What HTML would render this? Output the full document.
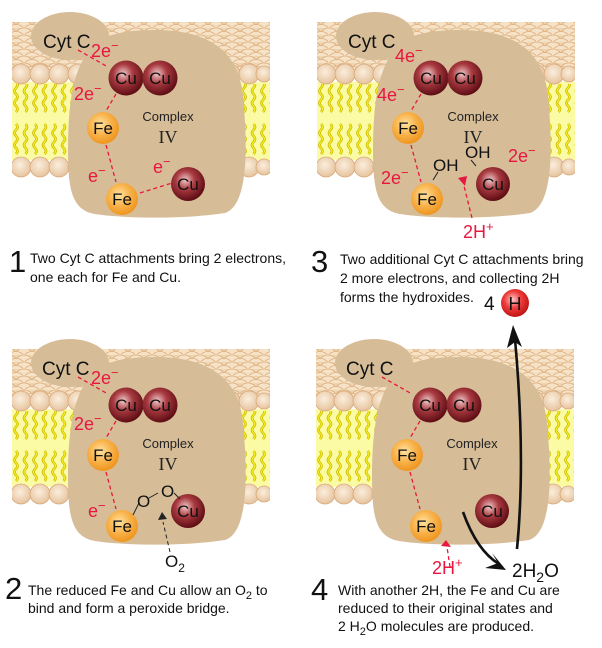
<!DOCTYPE html>
<html><head><meta charset="utf-8"><style>
html,body{margin:0;padding:0;background:#fff;}
svg{display:block;}
text{font-family:"Liberation Sans",sans-serif;}
.r{fill:#e8173f;}
.cap{font-size:14px;fill:#111;}
.big{font-size:31px;fill:#111;}
.el{font-size:17px;fill:#111;}
</style></head><body>
<svg width="602" height="648" viewBox="0 0 602 648" xmlns="http://www.w3.org/2000/svg">
<defs>
<radialGradient id="cu" cx="0.42" cy="0.38" r="0.62">
<stop offset="0" stop-color="#f1c9c9"/><stop offset="0.45" stop-color="#a83a40"/><stop offset="1" stop-color="#5e0d14"/></radialGradient>
<radialGradient id="fe" cx="0.42" cy="0.38" r="0.62">
<stop offset="0" stop-color="#ffe3a0"/><stop offset="0.55" stop-color="#f8b24a"/><stop offset="1" stop-color="#ef9620"/></radialGradient>
<radialGradient id="hb" cx="0.42" cy="0.38" r="0.62">
<stop offset="0" stop-color="#ffc8c8"/><stop offset="0.5" stop-color="#ee3b3b"/><stop offset="1" stop-color="#c01515"/></radialGradient>
<radialGradient id="bead" cx="0.45" cy="0.4" r="0.6">
<stop offset="0" stop-color="#fbeedd"/><stop offset="1" stop-color="#e6c49e"/></radialGradient>
<pattern id="scale" x="0" y="0" width="16" height="7" patternUnits="userSpaceOnUse">
<rect width="16" height="7" fill="#efd4b0"/>
<ellipse cx="8" cy="6" rx="8" ry="6" fill="#f6e2c6" stroke="#dcae7e" stroke-width="0.8"/>
<ellipse cx="0" cy="9.5" rx="8" ry="6" fill="#f6e2c6" stroke="#dcae7e" stroke-width="0.8"/>
<ellipse cx="16" cy="9.5" rx="8" ry="6" fill="#f6e2c6" stroke="#dcae7e" stroke-width="0.8"/>
</pattern>
<pattern id="tail" x="12" y="0" width="9.5" height="40" patternUnits="userSpaceOnUse">
<path d="M4,2 q3,3 0,6 q-3,3 0,6 q3,3 0,6 q-3,3 0,6 q3,3 0,6" fill="none" stroke="#c8b400" stroke-width="2.6"/>
<path d="M4,2 q3,3 0,6 q-3,3 0,6 q3,3 0,6 q-3,3 0,6 q3,3 0,6" fill="none" stroke="#f6ee20" stroke-width="1.3"/>
</pattern>
<g id="mem">
<rect x="12" y="22" width="258" height="50" fill="url(#scale)"/>
<rect x="12" y="82" width="258" height="78" fill="#fbfba6"/>
<rect x="12" y="84" width="258" height="36" fill="url(#tail)"/>
<rect x="12" y="120" width="258" height="36" fill="url(#tail)" transform="translate(0,2)"/>
<g fill="url(#bead)" stroke="#d9a97a" stroke-width="0.8">
<circle cx="21" cy="74" r="10"/><circle cx="40" cy="74" r="10"/><circle cx="59" cy="74" r="10"/><circle cx="78" cy="74" r="10"/><circle cx="97" cy="74" r="10"/><circle cx="116" cy="74" r="10"/><circle cx="135" cy="74" r="10"/><circle cx="154" cy="74" r="10"/><circle cx="173" cy="74" r="10"/><circle cx="192" cy="74" r="10"/><circle cx="211" cy="74" r="10"/><circle cx="230" cy="74" r="10"/><circle cx="249" cy="74" r="10"/><circle cx="264" cy="74" r="8"/>
<circle cx="21" cy="167" r="10"/><circle cx="40" cy="167" r="10"/><circle cx="59" cy="167" r="10"/><circle cx="78" cy="167" r="10"/><circle cx="97" cy="167" r="10"/><circle cx="116" cy="167" r="10"/><circle cx="135" cy="167" r="10"/><circle cx="154" cy="167" r="10"/><circle cx="173" cy="167" r="10"/><circle cx="192" cy="167" r="10"/><circle cx="211" cy="167" r="10"/><circle cx="230" cy="167" r="10"/><circle cx="249" cy="167" r="10"/><circle cx="264" cy="167" r="8"/>
</g>
<rect x="270" y="15" width="20" height="170" fill="#fff"/>
<rect x="0" y="15" width="12" height="170" fill="#fff"/>
<g fill="#d6bd98">
<path d="M82,62 C90,38 115,30 155,30 C205,30 238,48 243,95 C247,140 250,205 225,213 C180,220 120,218 95,214 C72,210 68,190 68,150 C68,110 72,80 82,62 Z"/>
<ellipse cx="70" cy="36" rx="39" ry="24"/>
</g>
</g>
<g id="balls">
<circle cx="126" cy="78" r="17.5" fill="url(#cu)"/>
<circle cx="160" cy="78" r="17.5" fill="url(#cu)"/>
<circle cx="103" cy="128" r="16" fill="url(#fe)"/>
<circle cx="122" cy="199" r="16" fill="url(#fe)"/>
<circle cx="188" cy="184" r="17" fill="url(#cu)"/>
</g>
</defs>

<!-- Panel 1 -->
<g>
<use href="#mem"/><use href="#balls"/>
<g stroke="#e8173f" stroke-width="1.3" stroke-dasharray="4,3" fill="none">
<path d="M78,50 L108,67"/><path d="M116,94 L106,111"/><path d="M106,145 L116,182"/><path d="M140,193 L172,183"/>
</g>
<text x="43" y="48" class="el" style="font-size:19px">Cyt C</text>
<text x="91" y="57" class="r" font-size="18">2e<tspan dy="-7" font-size="13">−</tspan></text>
<text x="74" y="100" class="r" font-size="18">2e<tspan dy="-7" font-size="13">−</tspan></text>
<text x="88" y="182" class="r" font-size="18">e<tspan dy="-7" font-size="13">−</tspan></text>
<text x="153" y="173" class="r" font-size="18">e<tspan dy="-7" font-size="13">−</tspan></text>
<g class="el" text-anchor="middle"><text x="126" y="84">Cu</text><text x="160" y="84">Cu</text><text x="103" y="134">Fe</text><text x="122" y="205">Fe</text><text x="188" y="190">Cu</text></g>
<text x="168" y="121" font-size="13" text-anchor="middle" fill="#222">Complex</text>
<text x="168" y="143" font-size="18" text-anchor="middle" fill="#222" style="font-family:'Liberation Serif',serif">IV</text>
<text x="9" y="272" class="big">1</text>
<text x="30" y="263" class="cap">Two Cyt  C attachments bring 2 electrons,</text>
<text x="30" y="282" class="cap">one each for Fe and Cu.</text>
</g>

<!-- Panel 3 -->
<g transform="translate(305,0)">
<use href="#mem"/><use href="#balls"/>
<g stroke="#e8173f" stroke-width="1.3" stroke-dasharray="4,3" fill="none">
<path d="M116,94 L106,111"/><path d="M106,145 L116,182"/><path d="M167,218 L159,186"/>
</g>
<path d="M153,178 L160,186 L162,176 Z" fill="#e8173f"/>
<g stroke="#222" stroke-width="1"><path d="M133,172 L128,180"/><path d="M166,160 L171,166"/></g>
<text x="43" y="48" class="el" style="font-size:19px">Cyt C</text>
<text x="90" y="62" class="r" font-size="18">4e<tspan dy="-7" font-size="13">−</tspan></text>
<text x="72" y="101" class="r" font-size="18">4e<tspan dy="-7" font-size="13">−</tspan></text>
<text x="76" y="184" class="r" font-size="18">2e<tspan dy="-7" font-size="13">−</tspan></text>
<text x="203" y="162" class="r" font-size="18">2e<tspan dy="-7" font-size="13">−</tspan></text>
<text x="158" y="238" class="r" font-size="18">2H<tspan dy="-7" font-size="13">+</tspan></text>
<text x="128" y="171" class="el">OH</text>
<text x="160" y="158" class="el">OH</text>
<g class="el" text-anchor="middle"><text x="126" y="84">Cu</text><text x="160" y="84">Cu</text><text x="103" y="134">Fe</text><text x="122" y="205">Fe</text><text x="188" y="190">Cu</text></g>
<text x="168" y="121" font-size="13" text-anchor="middle" fill="#222">Complex</text>
<text x="168" y="143" font-size="18" text-anchor="middle" fill="#222" style="font-family:'Liberation Serif',serif">IV</text>
<text x="6" y="272" class="big">3</text>
<text x="35" y="264" class="cap">Two additional Cyt  C attachments bring</text>
<text x="35" y="283" class="cap">2 more electrons, and collecting 2H</text>
<text x="35" y="302" class="cap">forms the hydroxides.</text>
</g>

<!-- Panel 2 -->
<g transform="translate(0,327)">
<use href="#mem"/><use href="#balls"/>
<g stroke="#e8173f" stroke-width="1.3" stroke-dasharray="4,3" fill="none">
<path d="M78,50 L108,67"/><path d="M116,94 L106,111"/><path d="M106,145 L116,182"/>
</g>
<g stroke="#222" stroke-width="1" fill="none"><path d="M133,188 L139,176"/><path d="M149,171 L158,166"/><path d="M174,166 L180,172"/>
<path d="M170,225 L163,195" stroke-dasharray="4,3"/></g>
<path d="M158,193 L162,185 L167,192 Z" fill="#222"/>
<text x="42" y="48" class="el" style="font-size:19px">Cyt C</text>
<text x="91" y="57" class="r" font-size="18">2e<tspan dy="-7" font-size="13">−</tspan></text>
<text x="74" y="103" class="r" font-size="18">2e<tspan dy="-7" font-size="13">−</tspan></text>
<text x="88" y="190" class="r" font-size="18">e<tspan dy="-7" font-size="13">−</tspan></text>
<text x="137" y="180" class="el">O</text>
<text x="161" y="170" class="el">O</text>
<text x="165" y="240" class="el">O<tspan dy="5" font-size="12">2</tspan></text>
<g class="el" text-anchor="middle"><text x="126" y="84">Cu</text><text x="160" y="84">Cu</text><text x="103" y="134">Fe</text><text x="122" y="205">Fe</text><text x="188" y="190">Cu</text></g>
<text x="168" y="121" font-size="13" text-anchor="middle" fill="#222">Complex</text>
<text x="168" y="143" font-size="18" text-anchor="middle" fill="#222" style="font-family:'Liberation Serif',serif">IV</text>
<text x="5" y="272" class="big">2</text>
<text x="28" y="268" class="cap">The reduced Fe and Cu allow an O<tspan dy="4" font-size="11">2</tspan><tspan dy="-4"> to</tspan></text>
<text x="28" y="286" class="cap">bind and form a peroxide bridge.</text>
</g>

<!-- Panel 4 -->
<g transform="translate(304,327)">
<use href="#mem"/><use href="#balls"/>
<g stroke="#e8173f" stroke-width="1.3" stroke-dasharray="4,3" fill="none">
<path d="M78,50 L108,67"/><path d="M116,94 L106,111"/><path d="M106,145 L116,182"/><path d="M146,240 L143,220"/>
</g>
<path d="M137,219 L142,213 L147,220 Z" fill="#e8173f"/>
<g fill="none" stroke="#111" stroke-width="2.6">
<path d="M159,185 C168,210 180,228 195,237"/>
<path d="M213,222 C219,160 218,90 211,12"/>
</g>
<path d="M202,243 L188,226 L194,236 L181,241 Z" fill="#111"/>
<path d="M209,-2 L218,20 L211,15 L203,21 Z" fill="#111"/>
<text x="42" y="48" class="el" style="font-size:19px">Cyt C</text>
<text x="128" y="247" class="r" font-size="18">2H<tspan dy="-7" font-size="13">+</tspan></text>
<text x="208" y="250" class="el" style="font-size:19px">2H<tspan dy="5" font-size="14">2</tspan><tspan dy="-5">O</tspan></text>
<g class="el" text-anchor="middle"><text x="126" y="84">Cu</text><text x="160" y="84">Cu</text><text x="103" y="134">Fe</text><text x="122" y="205">Fe</text><text x="188" y="190">Cu</text></g>
<text x="168" y="121" font-size="13" text-anchor="middle" fill="#222">Complex</text>
<text x="168" y="143" font-size="18" text-anchor="middle" fill="#222" style="font-family:'Liberation Serif',serif">IV</text>
<text x="7" y="273" class="big">4</text>
<text x="34" y="268" class="cap">With another 2H, the Fe and Cu are</text>
<text x="34" y="286" class="cap">reduced to their original states and</text>
<text x="34" y="304" class="cap">2  H<tspan dy="4" font-size="11">2</tspan><tspan dy="-4">O molecules are produced.</tspan></text>
</g>

<!-- 4 H -->
<circle cx="515" cy="303" r="14" fill="url(#hb)"/>
<text x="515" y="310" text-anchor="middle" font-size="18" fill="#111">H</text>
<text x="484" y="310" font-size="19" fill="#111">4</text>
</svg>
</body></html>
